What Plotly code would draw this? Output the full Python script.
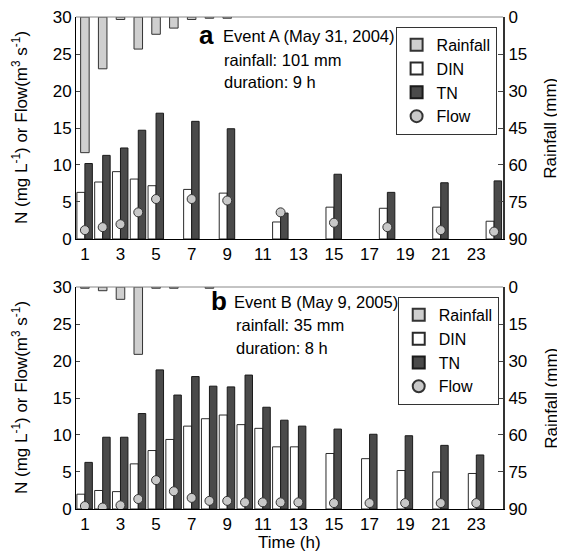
import plotly.graph_objects as go

# ---------------- data ----------------
hours_a = [1, 2, 3, 4, 5, 7, 9, 12, 15, 18, 21, 24]
din_a = [6.3, 7.7, 9.1, 8.1, 7.2, 6.7, 6.2, 2.3, 4.3, 4.15, 4.3, 2.4]
tn_a = [10.2, 11.3, 12.3, 14.7, 17.0, 15.9, 14.9, 3.5, 8.75, 6.3, 7.6, 7.85]
flow_a = [1.2, 1.6, 2.0, 3.6, 5.4, 5.4, 5.2, 3.6, 2.2, 1.6, 1.2, 1.0]
rain_hours_a = [1, 2, 3, 4, 5, 6, 7, 8, 9]
rain_a = [55, 21, 1, 13, 7, 4.5, 1, 0.5, 0.5]

hours_b = [1, 2, 3, 4, 5, 6, 7, 8, 9, 10, 11, 12, 13, 15, 17, 19, 21, 23]
din_b = [2.0, 2.5, 2.35, 6.1, 7.9, 9.4, 11.2, 12.2, 12.7, 11.4, 10.9, 8.4, 8.4, 7.5, 6.8, 5.2, 5.0, 4.8]
tn_b = [6.3, 9.7, 9.7, 12.9, 18.8, 15.4, 17.9, 16.6, 16.5, 18.1, 13.75, 12.0, 11.2, 10.8, 10.1, 9.9, 8.6, 7.3]
flow_b = [0.4, 0.2, 0.5, 1.35, 3.9, 2.4, 1.5, 1.1, 1.1, 0.9, 0.9, 0.9, 0.9, 0.8, 0.8, 0.8, 0.8, 0.8]
rain_hours_b = [1, 2, 3, 4, 5, 6, 8]
rain_b = [0.5, 1.5, 5, 27.3, 0.5, 0.5, 0.5]

x_ticks = list(range(1, 24, 2))
n_ticks = [0, 5, 10, 15, 20, 25, 30]
rain_ticks = [0, 15, 30, 45, 60, 75, 90]

# ---------------- style ----------------
FONT = "Liberation Sans, Arial, Helvetica, sans-serif"
FS = 17
RAIN_FILL = "#cfcfcf"
TN_FILL = "#4a4a4a"
FLOW_FILL = "#c8c8c8"
EDGE = "#2a2a2a"

fig = go.Figure()


def add_panel(xa, ya, ya2, legend, hrs, din, tn, flow, rhrs, rain):
    fig.add_trace(go.Bar(x=rhrs, y=rain, name="Rainfall", xaxis=xa, yaxis=ya2,
                         offset=-0.24, width=0.48, base=0,
                         marker=dict(color=RAIN_FILL, line=dict(color="#333", width=1)),
                         legend=legend))
    fig.add_trace(go.Bar(x=hrs, y=din, name="DIN", xaxis=xa, yaxis=ya,
                         offset=-0.45, width=0.45,
                         marker=dict(color="white", line=dict(color=EDGE, width=1)),
                         legend=legend))
    fig.add_trace(go.Bar(x=hrs, y=tn, name="TN", xaxis=xa, yaxis=ya,
                         offset=0.0, width=0.42,
                         marker=dict(color=TN_FILL, line=dict(color="#1a1a1a", width=1)),
                         legend=legend))
    fig.add_trace(go.Scatter(x=hrs, y=flow, name="Flow", mode="markers", xaxis=xa, yaxis=ya,
                             marker=dict(symbol="circle", size=9, color=FLOW_FILL,
                                         line=dict(color="#333", width=1)),
                             legend=legend))


add_panel("x", "y", "y2", "legend", hours_a, din_a, tn_a, flow_a, rain_hours_a, rain_a)
add_panel("x2", "y3", "y4", "legend2", hours_b, din_b, tn_b, flow_b, rain_hours_b, rain_b)

ytitle = "N (mg L<sup>-1</sup>) or Flow(m<sup>3</sup> s<sup>-1</sup>)"
xcommon = dict(range=[0.5, 24.5], tickvals=x_ticks, showgrid=False, zeroline=False,
               showline=True, linecolor="black", linewidth=1, ticks="",
               tickfont=dict(size=FS), automargin=False, ticklabeloverflow="allow")
ycommon = dict(range=[0, 30], tickvals=n_ticks, showgrid=False, zeroline=False,
               showline=True, linecolor="black", linewidth=1, ticks="inside", ticklen=4,
               tickfont=dict(size=FS), automargin=False, ticklabeloverflow="allow")
rcommon = dict(range=[90, 0], tickvals=rain_ticks, showgrid=False, zeroline=False,
               showline=True, linecolor="#333", linewidth=2, ticks="inside", ticklen=5,
               tickfont=dict(size=FS), side="right", automargin=False,
               ticklabeloverflow="allow")

legcommon = dict(bgcolor="white", bordercolor="#333", borderwidth=1,
                 font=dict(size=16, color="black"), xanchor="right", yanchor="top",
                 itemsizing="constant", itemwidth=30, tracegroupgap=0)

top_a = 1.0
bot_a = 0.5488
top_b = 0.4512

# the page body has an 8px margin, so the figure is 8px smaller than the window
fig.update_layout(
    width=557, height=548,
    margin=dict(l=68, r=62, t=9, b=47),
    paper_bgcolor="white", plot_bgcolor="white",
    font=dict(family=FONT, size=FS, color="black"),
    barmode="overlay",
    showlegend=True,
    xaxis=dict(**xcommon, anchor="y", domain=[0, 1]),
    yaxis=dict(**ycommon, anchor="x", domain=[bot_a, top_a]),
    yaxis2=dict(**rcommon, anchor="x", overlaying="y"),
    xaxis2=dict(**xcommon, anchor="y3", domain=[0, 1]),
    yaxis3=dict(**ycommon, anchor="x2", domain=[0, top_b]),
    yaxis4=dict(**rcommon, anchor="x2", overlaying="y3"),
    legend=dict(**legcommon, x=0.985, y=0.98),
    legend2=dict(**legcommon, x=0.99, y=0.431),
)

# top frame lines
for xr, yr in [("x domain", "y domain"), ("x2 domain", "y3 domain")]:
    fig.add_shape(type="line", xref=xr, yref=yr, x0=0, x1=1, y0=1, y1=1,
                  line=dict(color="#888", width=1))

ann = []


def texts(label, event, rain, dur, xl, xe, y1, y2, y3):
    ann.append(dict(text="<b>%s</b>" % label, x=xl, y=y1 + 0.002, font=dict(size=26),
                    xanchor="left"))
    ann.append(dict(text=event, x=xe, y=y1, font=dict(size=16.5), xanchor="left"))
    ann.append(dict(text=rain, x=xe + 0.003, y=y2, font=dict(size=16.5), xanchor="left"))
    ann.append(dict(text=dur, x=xe + 0.003, y=y3, font=dict(size=16.5), xanchor="left"))


texts("a", "Event A (May 31, 2004)", "rainfall: 101 mm", "duration: 9 h",
      0.284, 0.340, 0.961, 0.9126, 0.868)
texts("b", "Event B (May 9, 2005)", "rainfall: 35 mm", "duration: 8 h",
      0.312, 0.366, 0.4207, 0.374, 0.327)

# axis titles
for yc in [(bot_a + top_a) / 2, top_b / 2]:
    ann.append(dict(text=ytitle, x=-0.1311, y=yc, textangle=-90, xanchor="center",
                    font=dict(size=FS)))
    ann.append(dict(text="Rainfall (mm)", x=1.112, y=yc, textangle=-90, xanchor="center",
                    font=dict(size=FS)))
ann.append(dict(text="Time (h)", x=0.501, y=-0.0691, xanchor="center", font=dict(size=FS)))

for a in ann:
    fig.add_annotation(xref="paper", yref="paper", yanchor="middle",
                       showarrow=False, **a)

fig.write_html("out.html")
